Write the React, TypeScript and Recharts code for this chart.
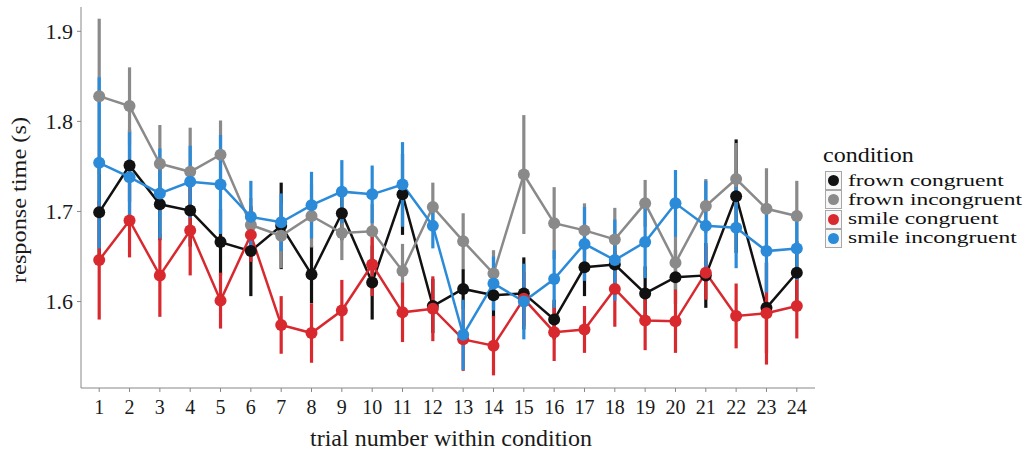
import React from 'react';
import { LineChart, Line, XAxis, YAxis, ErrorBar, Legend } from 'recharts';

const trials = [1, 2, 3, 4, 5, 6, 7, 8, 9, 10, 11, 12, 13, 14, 15, 16, 17, 18, 19, 20, 21, 22, 23, 24];

const frownCongruent = [1.699, 1.751, 1.708, 1.701, 1.666, 1.656, 1.684, 1.630, 1.698, 1.621, 1.719, 1.595, 1.614, 1.607, 1.609, 1.580, 1.638, 1.641, 1.609, 1.627, 1.629, 1.717, 1.593, 1.632];
const frownCongruentErr = [0.05, 0.04, 0.04, 0.04, 0.037, 0.05, 0.048, 0.032, 0.03, 0.041, 0.045, 0.03, 0.022, 0.025, 0.04, 0.022, 0.032, 0.025, 0.03, 0.03, 0.036, 0.063, 0.05, 0.035];

const frownIncongruent = [1.828, 1.817, 1.753, 1.744, 1.763, 1.685, 1.673, 1.695, 1.676, 1.678, 1.634, 1.705, 1.667, 1.631, 1.741, 1.687, 1.679, 1.669, 1.709, 1.643, 1.706, 1.736, 1.703, 1.695];
const frownIncongruentErr = [0.086, 0.043, 0.043, 0.049, 0.038, 0.03, 0.036, 0.035, 0.03, 0.03, 0.03, 0.027, 0.031, 0.026, 0.066, 0.04, 0.03, 0.035, 0.026, 0.03, 0.03, 0.04, 0.045, 0.039];

const smileCongruent = [1.646, 1.690, 1.629, 1.679, 1.601, 1.674, 1.574, 1.565, 1.590, 1.641, 1.588, 1.592, 1.558, 1.551, 1.603, 1.566, 1.569, 1.614, 1.579, 1.578, 1.632, 1.584, 1.587, 1.595];
const smileCongruentErr = [0.066, 0.041, 0.046, 0.05, 0.031, 0.03, 0.032, 0.033, 0.034, 0.035, 0.033, 0.036, 0.035, 0.033, 0.03, 0.032, 0.026, 0.042, 0.033, 0.035, 0.03, 0.036, 0.057, 0.036];

const smileIncongruent = [1.754, 1.738, 1.720, 1.733, 1.730, 1.694, 1.688, 1.707, 1.722, 1.719, 1.730, 1.684, 1.563, 1.620, 1.600, 1.625, 1.664, 1.646, 1.666, 1.709, 1.684, 1.682, 1.656, 1.659];
const smileIncongruentErr = [0.095, 0.05, 0.05, 0.04, 0.055, 0.04, 0.032, 0.037, 0.035, 0.032, 0.047, 0.025, 0.039, 0.03, 0.042, 0.032, 0.041, 0.045, 0.04, 0.037, 0.05, 0.045, 0.046, 0.035];

const yTicks = [1.6, 1.7, 1.8, 1.9];

const seriesNames = ['frown congruent', 'frown incongruent', 'smile congruent', 'smile incongruent'];
const seriesColors = ['#111111', '#8a8a8a', '#d8292f', '#2b8bd9'];

const data = trials.map((t, i) => ({
  trial: t,
  fc: frownCongruent[i],
  fcErr: frownCongruentErr[i],
  fi: frownIncongruent[i],
  fiErr: frownIncongruentErr[i],
  sc: smileCongruent[i],
  scErr: smileCongruentErr[i],
  si: smileIncongruent[i],
  siErr: smileIncongruentErr[i],
}));

const keys = ['fc', 'fi', 'sc', 'si'];

const FONT = '"Liberation Serif", "Times New Roman", serif';

const ROW_H = 19.2;

const LegendContent = () => (
  <div style={{ position: 'relative', width: 218, height: 112, fontFamily: FONT, color: '#111' }}>
    <div
      style={{
        position: 'absolute',
        left: 8,
        top: 5,
        fontSize: 20,
        lineHeight: '20px',
        whiteSpace: 'nowrap',
        transform: 'scaleX(1.2)',
        transformOrigin: 'left top',
      }}
    >
      condition
    </div>
    {seriesNames.map((n, i) => {
      const center = 40.7 + ROW_H * i;
      return (
        <React.Fragment key={n}>
          <div
            style={{
              position: 'absolute',
              left: 10,
              top: center - ROW_H / 2,
              width: 16.7,
              height: ROW_H,
              boxSizing: 'border-box',
              border: '1px solid #a8a8a8',
              background: '#f7f7f7',
            }}
          />
          <div
            style={{
              position: 'absolute',
              left: 18.35 - 5.5,
              top: center - 5.5,
              width: 11,
              height: 11,
              borderRadius: 5.5,
              background: seriesColors[i],
            }}
          />
          <div
            style={{
              position: 'absolute',
              left: 33,
              top: center - ROW_H / 2 + 0.5,
              fontSize: 17,
              lineHeight: `${ROW_H - 1}px`,
              whiteSpace: 'nowrap',
              transform: 'scaleX(1.38)',
              transformOrigin: 'left top',
            }}
          >
            {n}
          </div>
        </React.Fragment>
      );
    })}
  </div>
);

export default function App() {
  return (
    <div style={{ position: 'absolute', left: 0, top: 0, width: 1033, height: 452, background: '#fff' }}>
      <LineChart width={1033} height={452} data={data} margin={{ top: 7, right: 218, left: 0, bottom: 0 }}>
        <XAxis
          dataKey="trial"
          type="number"
          domain={[0.4, 24.6]}
          ticks={trials}
          interval={0}
          height={64}
          stroke="#888"
          tickSize={4}
          tickMargin={8}
          tick={{ fontFamily: FONT, fontSize: 20, fill: '#1a1a1a' }}
          label={{
            content: () => (
              <text x={451} y={446} textAnchor="middle" fontFamily={FONT} fontSize={24} fill="#1a1a1a">
                trial number within condition
              </text>
            ),
          }}
        />
        <YAxis
          type="number"
          domain={[1.504, 1.927]}
          ticks={yTicks}
          allowDataOverflow
          width={81}
          stroke="#888"
          tickSize={4}
          tickMargin={4}
          tickFormatter={(v: number) => v.toFixed(1)}
          tick={{ fontFamily: FONT, fontSize: 22, fill: '#1a1a1a' }}
          label={{
            content: () => (
              <text
                x={26}
                y={200}
                transform="rotate(-90 26 200)"
                textAnchor="middle"
                textLength={166}
                lengthAdjust="spacingAndGlyphs"
                fontFamily={FONT}
                fontSize={21}
                fill="#1a1a1a"
              >
                response time (s)
              </text>
            ),
          }}
        />
        {keys.map((k, i) => (
          <Line
            key={k}
            dataKey={k}
            name={seriesNames[i]}
            stroke={seriesColors[i]}
            strokeWidth={2.5}
            dot={{ r: 6, fill: seriesColors[i], stroke: seriesColors[i], strokeWidth: 0 }}
            isAnimationActive={false}
          >
            <ErrorBar dataKey={`${k}Err`} width={0} strokeWidth={3.2} stroke={seriesColors[i]} direction="y" isAnimationActive={false} />
          </Line>
        ))}
        <Legend
          layout="vertical"
          align="center"
          verticalAlign="middle"
          content={<LegendContent />}
          wrapperStyle={{ left: 815, top: 140, width: 218, height: 112 }}
        />
      </LineChart>
    </div>
  );
}
